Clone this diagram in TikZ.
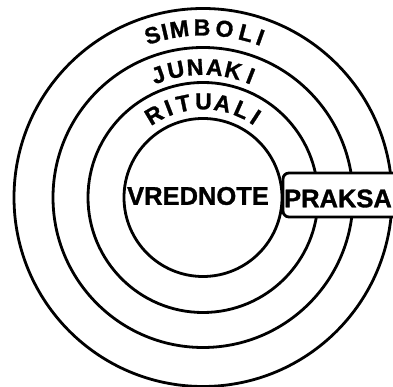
\documentclass[tikz,border=0pt]{standalone}
\usepackage{fontspec}
\setmainfont{Liberation Sans}
\newfontfamily\heavyfont{Liberation Sans Bold}[FakeBold=1.2]
\tikzset{
  ring/.style={draw=black, line width=2.8pt},
  bigtext/.style={font=\fontsize{25.5}{26}\selectfont\heavyfont, inner sep=0pt},
  arcletter/.style={font=\fontsize{23}{24}\selectfont\heavyfont, inner sep=0pt, outer sep=0pt, anchor=center},
}
\begin{document}
\begin{tikzpicture}[x=1pt,y=1pt]
\useasboundingbox (0,0) rectangle (393,387);
\coordinate (C) at (203,189.5);
\draw[ring] (C) circle[radius=79];
\draw[ring] (C) circle[radius=115];
\draw[ring] (C) circle[radius=150];
\draw[ring] (C) circle[radius=189];
\draw[ring, fill=white, rounded corners=6pt] (410,170) -- (283,170) -- (283,214) -- (410,214);
\node[bigtext] (vred) at (198,191) {VREDNOTE};
\node[bigtext] (praksa) at (338,188.5) {PRAKSA};
\foreach \ch/\ang [count=\i] in {S/107.3, I/103.0, M/98.0, B/90.3, O/82.7, L/75.3, I/70.3}
  \node[arcletter, rotate=\ang-90] (sim\i) at ([shift={(\ang:170)}]C) {\ch};
\foreach \ch/\ang [count=\i] in {J/110.1, U/102, N/93.5, A/84.9, K/76.6, I/68.6}
  \node[arcletter, rotate=\ang-90] (jun\i) at ([shift={(\ang:130.5)}]C) {\ch};
\foreach \ch/\ang [count=\i] in {R/120.7, I/111, T/101.8, U/89.7, A/78.2, L/66.1, I/56.8}
  \node[arcletter, rotate=\ang-90] (rit\i) at ([shift={(\ang:96)}]C) {\ch};
\end{tikzpicture}
\end{document}
